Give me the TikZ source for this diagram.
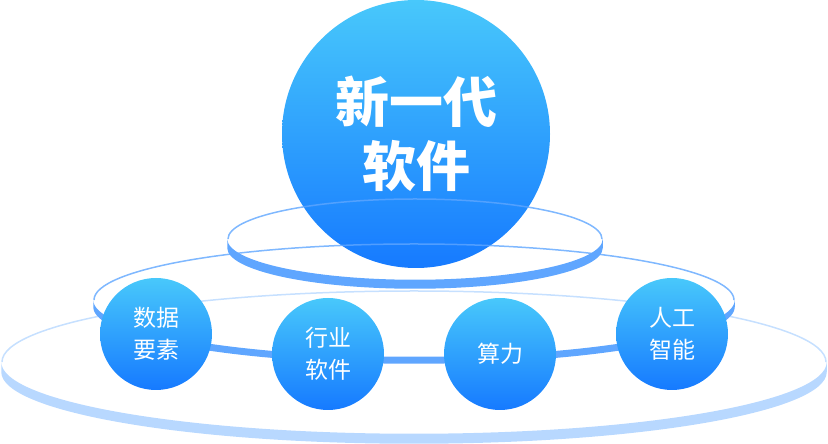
\documentclass[tikz,border=0pt]{standalone}
\usepackage{fontspec}
\setmainfont{Noto Sans CJK SC}
\definecolor{ringblue}{RGB}{95,166,255}
\definecolor{ringlight}{RGB}{184,216,255}
\definecolor{balltop}{RGB}{72,200,251}
\definecolor{ballbottom}{RGB}{22,122,255}
% flat disc ring: cx, cy, x radius, y radius, depth, colour
\newcommand{\discring}[6]{%
  \draw[#6, line width=1.5pt, opacity=0.8] (#1+#3,#2) arc [start angle=0, end angle=180, x radius=#3, y radius=#4];
  \fill[#6] (#1-#3-0.75,#2) arc [start angle=180, end angle=360, x radius=#3+0.75, y radius=#4+0.75]
    -- ++(0,-#5) arc [start angle=0, end angle=-180, x radius=#3+0.75, y radius=#4+0.75] -- cycle;
}
\tikzset{
  ball/.style={circle, inner sep=0pt, top color=balltop, bottom color=ballbottom,
    text=white, align=center},
  smallball/.style={ball, minimum size=112pt, font=\fontsize{23}{32}\selectfont},
}
\begin{document}
\begin{tikzpicture}[x=1pt, y=1pt]
  \useasboundingbox (0,0) rectangle (828,444);
  % centre ball
  \node[ball, minimum size=268pt, font=\fontsize{54}{64}\selectfont\bfseries] (core) at (416,310) {新一代\\软件};
  % rings
  \discring{414}{82}{412}{71}{10}{ringlight}
  \discring{414}{144}{320}{56}{7}{ringblue}
  \discring{415}{205}{187}{40}{9}{ringblue}
  % small balls
  \node[smallball] (data) at (156,110) {数据\\要素};
  \node[smallball] (industry) at (328,90) {行业\\软件};
  \node[smallball] (compute) at (500,90) {算力};
  \node[smallball] (ai) at (672,110) {人工\\智能};
\end{tikzpicture}
\end{document}
